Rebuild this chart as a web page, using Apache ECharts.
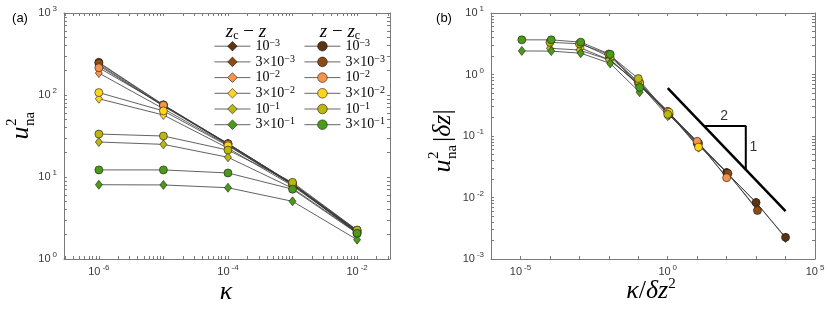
<!DOCTYPE html>
<html><head><meta charset="utf-8">
<script src="https://cdn.jsdelivr.net/npm/echarts@6/dist/echarts.min.js"></script>
<style>html,body{margin:0;padding:0;background:#fff}#c{width:830px;height:316px}</style>
</head><body><div id="c"></div>
<script>
// ---------------- data ----------------
const kappa = [1e-6, 1e-5, 1e-4, 1e-3, 1e-2];
const deltaZ = [1e-3, 3e-3, 1e-2, 3e-2, 1e-1, 3e-1];
const deltaZLabels = [['10', '−3'], ['3×10', '−3'], ['10', '−2'], ['3×10', '−2'], ['10', '−1'], ['3×10', '−1']];
// u_na^2 for z_c - z = deltaZ (diamonds)
const u2Below_1e3 = [235, 74, 25.5, 8.3, 2.2];
const u2Below_3e3 = [228, 73, 25, 8.1, 2.15];
const u2Below_1e2 = [185, 68, 24.5, 8.0, 2.15];
const u2Below_3e2 = [90, 57, 22.5, 7.8, 2.15];
const u2Below_1e1 = [26.7, 25, 17.4, 7.3, 2.1];
const u2Below_3e1 = [8.05, 8.0, 7.4, 5.05, 1.72];
// u_na^2 for z - z_c = deltaZ (circles)
const u2Above_1e3 = [250, 76, 25.5, 8.3, 2.25];
const u2Above_3e3 = [245, 75, 25.5, 8.2, 2.05];
const u2Above_1e2 = [215, 75, 25, 8.2, 2.1];
const u2Above_3e2 = [107, 64, 24, 8.1, 2.2];
const u2Above_1e1 = [33.4, 31.6, 21.3, 8.6, 2.25];
const u2Above_3e1 = [12.2, 12.2, 11.2, 7.1, 2.06];
const u2Below = [u2Below_1e3, u2Below_3e3, u2Below_1e2, u2Below_3e2, u2Below_1e1, u2Below_3e1];
const u2Above = [u2Above_1e3, u2Above_3e3, u2Above_1e2, u2Above_3e2, u2Above_1e1, u2Above_3e1];
// slope guide in panel (b)
const slopeX = [1, 1e4];
const slopeY = [0.6, 0.006];
const triX = [17.4, 447, 447];
const triY = [0.146, 0.146, 0.0275];
const slopeText = [[83, 0.214, '2'], [810, 0.067, '1']];
// tick labels (decade exponents)
const aXLabelExp = [-6, -4, -2];
const aYLabelExp = [0, 1, 2, 3];
const bXLabelExp = [-5, 0, 5];
const bYLabelExp = [-3, -2, -1, 0, 1];

// ---------------- styles ----------------
const colors = ['#5d3411', '#8d4b16', '#f6944c', '#ffd41c', '#bab612', '#4c9b16'];
const axisColor = '#7a7a7a';
const labelColor = '#3a3a3a';
const SANS = '"Liberation Sans", Arial, sans-serif';
const SERIF = '"Liberation Serif", "Times New Roman", serif';
const lg = Math.log10;

function logTicks(lo, hi, minor) {
  const out = [];
  for (let d = Math.floor(lo); d <= Math.ceil(hi); d++) {
    const ks = minor ? [1, 2, 3, 4, 5, 6, 7, 8, 9] : [1];
    ks.forEach(k => { const v = d + lg(k); if (v >= lo - 1e-9 && v <= hi + 1e-9) out.push(v); });
  }
  return out;
}
const tickRich = {
  b: { fontFamily: SANS, fontSize: 11, lineHeight: 16, color: labelColor },
  s: { fontFamily: SANS, fontSize: 8, lineHeight: 9, verticalAlign: 'top', color: labelColor, padding: [0, 0, 0, 2] }
};
function expFmt(v) { return '{b|10}{s|' + Math.round(v) + '}'; }

function mkAxis(gridIndex, pos, min, max, ticks, labels) {
  return {
    gridIndex, type: 'value', position: pos, min, max,
    axisLine: { show: true, onZero: false, lineStyle: { color: axisColor, width: 1 } },
    axisTick: { show: true, inside: true, length: 3, customValues: ticks, lineStyle: { color: axisColor, width: 1 } },
    axisLabel: labels ? { show: true, customValues: labels, formatter: expFmt, rich: tickRich, margin: (pos === 'bottom' ? 5 : 7) } : { show: false },
    splitLine: { show: false }, minorTick: { show: false }
  };
}
const aX = [-6.54, -1.49], aY = [0, 3], bX = [-6, 5], bY = [-3, 1];

const xAxis = [
  mkAxis(0, 'bottom', aX[0], aX[1], logTicks(aX[0], aX[1], true), aXLabelExp),
  mkAxis(0, 'top', aX[0], aX[1], logTicks(aX[0], aX[1], true), null),
  mkAxis(1, 'bottom', bX[0], bX[1], logTicks(bX[0], bX[1], false), bXLabelExp),
  mkAxis(1, 'top', bX[0], bX[1], logTicks(bX[0], bX[1], false), null)
];
const yAxis = [
  mkAxis(0, 'left', aY[0], aY[1], logTicks(aY[0], aY[1], true), aYLabelExp),
  mkAxis(0, 'right', aY[0], aY[1], logTicks(aY[0], aY[1], true), null),
  mkAxis(1, 'left', bY[0], bY[1], logTicks(bY[0], bY[1], true), bYLabelExp),
  mkAxis(1, 'right', bY[0], bY[1], logTicks(bY[0], bY[1], true), null)
];

const series = [];
function addSeries(name, i, vals, symbol, size, panel) {
  const dz = deltaZ[i];
  const data = kappa.map((k, j) => panel === 0 ? [lg(k), lg(vals[j])] : [lg(k / (dz * dz)), lg(vals[j] * dz)]);
  series.push({
    name, type: 'line', xAxisIndex: panel * 2, yAxisIndex: panel * 2, data,
    symbol, symbolSize: size, showAllSymbol: true,
    itemStyle: { color: colors[i], borderColor: '#1a1a1a', borderWidth: 0.6 },
    lineStyle: { color: '#3a3a3a', width: 0.8 },
    emphasis: { disabled: true }, silent: true, animation: false
  });
}
[0, 1].forEach(panel => {
  deltaZ.forEach((dz, i) => {
    addSeries('b' + i, i, u2Below[i], 'diamond', [7, 9], panel);
    addSeries('a' + i, i, u2Above[i], 'circle', 8, panel);
  });
});
series.push({
  type: 'line', xAxisIndex: 2, yAxisIndex: 2, symbol: 'none', silent: true, animation: false,
  data: slopeX.map((x, j) => [lg(x), lg(slopeY[j])]),
  lineStyle: { color: '#000', width: 2.5 }
});
series.push({
  type: 'line', xAxisIndex: 2, yAxisIndex: 2, symbol: 'none', silent: true, animation: false,
  data: triX.map((x, j) => [lg(x), lg(triY[j])]),
  lineStyle: { color: '#000', width: 2 }
});
series.push({
  type: 'scatter', xAxisIndex: 2, yAxisIndex: 2, symbolSize: 0, silent: true, animation: false,
  data: slopeText.map(d => [lg(d[0]), lg(d[1]), d[2]]),
  label: { show: true, position: 'inside', formatter: p => p.value[2], fontFamily: SANS, fontSize: 14, color: '#000' }
});

const legendRich = {
  n: { fontFamily: SERIF, fontSize: 14, lineHeight: 16, color: '#000' },
  s: { fontFamily: SERIF, fontSize: 10, lineHeight: 8, verticalAlign: 'top', color: '#000' }
};
function mkLegend(prefix, left) {
  return {
    orient: 'vertical', left, top: 38.2, padding: 0, itemWidth: 36, itemHeight: 12, itemGap: 0.7,
    selectedMode: false, data: deltaZ.map((d, i) => prefix + i),
    itemStyle: { borderColor: '#1a1a1a', borderWidth: 0.6 },
    lineStyle: { color: '#555', width: 0.9 },
    formatter: name => { const l = deltaZLabels[+name.slice(1)]; return '{n|' + l[0] + '}{s|' + l[1] + '}'; },
    textStyle: { rich: legendRich }
  };
}

const mathRich = {
  i: { fontFamily: SERIF, fontStyle: 'italic', fontSize: 19, lineHeight: 20, color: '#000' },
  r: { fontFamily: SERIF, fontSize: 19, lineHeight: 20, color: '#000' },
  c: { fontFamily: SERIF, fontSize: 12, lineHeight: 10, verticalAlign: 'bottom', color: '#000' }
};
const bigRich = {
  i: { fontFamily: SERIF, fontStyle: 'italic', fontSize: 26, lineHeight: 28, color: '#000' },
  r: { fontFamily: SERIF, fontSize: 26, lineHeight: 28, color: '#000' },
  s: { fontFamily: SERIF, fontSize: 15, lineHeight: 12, verticalAlign: 'top', color: '#000' }
};
function txt(x, y, text, font, align) {
  return { type: 'text', x, y, silent: true, style: { text, font, fill: '#000', align: align || 'center', verticalAlign: 'middle' } };
}
const graphic = [
  txt(20, 18, '(a)', '13px ' + SANS),
  txt(444, 18, '(b)', '13px ' + SANS),
  { type: 'text', x: 246, y: 32, silent: true, style: { text: '{i|z}{c|c}{r| − }{i|z}', rich: mathRich, align: 'center', verticalAlign: 'middle' } },
  { type: 'text', x: 340, y: 32, silent: true, style: { text: '{i|z}{r| − }{i|z}{c|c}', rich: mathRich, align: 'center', verticalAlign: 'middle' } },
  txt(226, 292, 'κ', 'italic 26px ' + SERIF),
  { type: 'text', x: 651, y: 291, silent: true, style: { text: '{i|κ}{r|/}{i|δz}{s|2}', rich: bigRich, align: 'center', verticalAlign: 'middle' } },
  { type: 'group', x: 21, y: 133, rotation: Math.PI / 2, silent: true, children: [
    txt(0, 0, 'u', 'italic 26px ' + SERIF),
    txt(7, -9, '2', '15px ' + SERIF, 'left'),
    txt(7, 9, 'na', '15px ' + SERIF, 'left')
  ] },
  { type: 'group', x: 443, y: 166, rotation: Math.PI / 2, silent: true, children: [
    txt(0, 0, 'u', 'italic 26px ' + SERIF),
    txt(7, -9, '2', '15px ' + SERIF, 'left'),
    txt(7, 9, 'na', '15px ' + SERIF, 'left'),
    { type: 'text', x: 24, y: 0, silent: true, style: { text: '{r||}{i|δz}{r||}', rich: bigRich, align: 'left', verticalAlign: 'middle' } }
  ] }
];

const chart = echarts.init(document.getElementById('c'), null, { renderer: 'canvas' });
chart.setOption({
  animation: false,
  backgroundColor: '#fff',
  grid: [
    { left: 64, top: 13, width: 326, height: 246, outerBoundsMode: 'none' },
    { left: 491, top: 13, width: 324, height: 246, outerBoundsMode: 'none' }
  ],
  xAxis, yAxis, series,
  legend: [mkLegend('b', 214), mkLegend('a', 304)],
  graphic
});
</script></body></html>
